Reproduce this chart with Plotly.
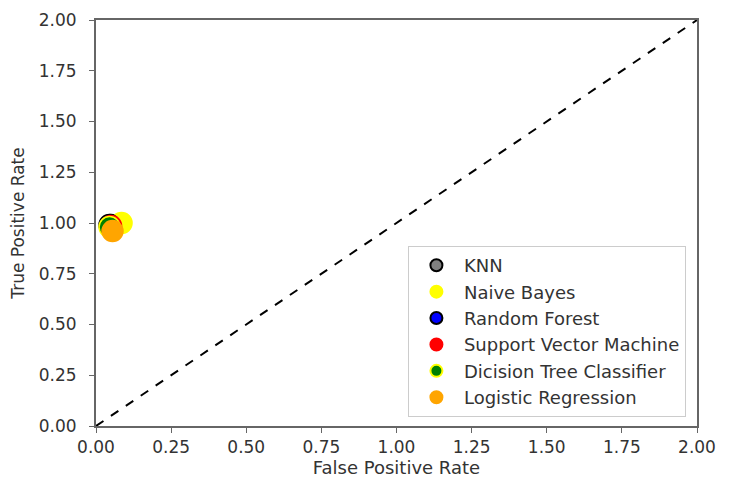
import plotly.graph_objects as go

models = ["KNN", "Naive Bayes", "Random Forest", "Support Vector Machine",
          "Dicision Tree Classifier", "Logistic Regression"]
fpr = [0.05, 0.085, 0.045, 0.05, 0.045, 0.055]
tpr = [0.99, 1.00, 0.99, 0.985, 0.98, 0.96]
colors = ["gray", "yellow", "blue", "red", "green", "orange"]
edge_colors = ["black", "yellow", "black", "red", "yellow", "orange"]
diag = [0, 2]
ticks = [0, 0.25, 0.5, 0.75, 1.0, 1.25, 1.5, 1.75, 2.0]
tick_text = ["0.00", "0.25", "0.50", "0.75", "1.00", "1.25", "1.50", "1.75", "2.00"]

fig = go.Figure()
fig.add_trace(go.Scatter(x=diag, y=diag, mode="lines",
                         line=dict(color="black", dash="dash", width=2),
                         showlegend=False, hoverinfo="skip"))
for m, x, y, c, e in zip(models, fpr, tpr, colors, edge_colors):
    fig.add_trace(go.Scatter(x=[x], y=[y], mode="markers", name=m,
                             marker=dict(color=c, size=21,
                                         line=dict(color=e, width=1.5))))

axis_common = dict(range=[0, 2], tickvals=ticks, ticktext=tick_text,
                   showgrid=False, zeroline=False, showline=True, mirror=True,
                   linecolor="#666666", linewidth=2, ticks="outside",
                   ticklen=5, tickcolor="#666666", automargin=False,
                   tickfont=dict(size=17, color="#333333"))

fig.update_layout(
    width=721, height=475,
    margin=dict(l=88, r=32, t=12, b=57),
    paper_bgcolor="white", plot_bgcolor="white",
    font=dict(family="DejaVu Sans", size=17, color="#333333"),
    xaxis=dict(axis_common, title=dict(text="False Positive Rate",
                                       font=dict(size=18), standoff=4)),
    yaxis=dict(axis_common, ticklabelstandoff=9,
               title=dict(text="True Positive Rate",
                          font=dict(size=17), standoff=10)),
    legend=dict(x=0.519, y=0.022, xanchor="left", yanchor="bottom",
                bgcolor="white", bordercolor="#cccccc", borderwidth=1,
                tracegroupgap=0, itemwidth=45,
                font=dict(size=18, color="#333333"), itemsizing="constant"),
)

fig.write_html("out.html")
